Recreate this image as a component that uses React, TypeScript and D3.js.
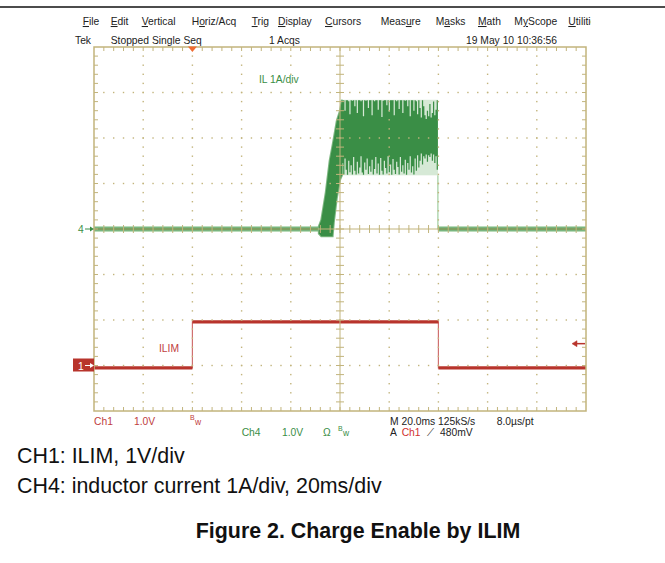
import React from 'react';
import * as d3 from 'd3';

// ---------- data ----------
const menuLabels = ['File', 'Edit', 'Vertical', 'Horiz/Acq', 'Trig', 'Display', 'Cursors', 'Measure', 'Masks', 'Math', 'MyScope', 'Utilities'];
const menuUnderline = [0, 0, 0, 1, 0, 0, 0, 4, 1, 0, 1, 0];

const msPerDiv = 20;
const timeDomain = [-100, 100];
const ch1Offset = -3; // divisions
const ch4Offset = 0;
const triggerTime = -60;
const triggerLevel = 0.48; // V

// CH1: ILIM (V)
const ilimTimes = [-100, -60, -60, 40, 40, 100];
const ilimVolts = [-0.05, -0.05, 0.96, 0.96, -0.05, -0.05];

// CH4: inductor current (A)
const ilIdleTimesA = [-100, -8.0];
const ilIdleTimesB = [39.8, 100];
const ilIdleLevel = 0;

const rampTimes = [-8.6, -7.6, -5.8, -4.2, -3.0, -2.5, -1.3, 0.0, 0.8];
const rampUpper = [0.06, 0.2, 0.8, 1.5, 1.85, 2.0, 2.38, 2.6, 2.84];
const rampLower = [-0.1, -0.16, -0.16, -0.16, -0.16, 0.15, 0.68, 1.08, 1.18];

const bandTimes = [0.8, 1.3, 1.8, 2.3, 2.8, 3.3, 3.8, 4.3, 4.8, 5.3, 5.8, 6.3, 6.8, 7.3, 7.8, 8.3, 8.8, 9.3, 9.8, 10.3, 10.8, 11.3, 11.8, 12.3, 12.8, 13.3, 13.8, 14.3, 14.8, 15.3, 15.8, 16.3, 16.8, 17.3, 17.8, 18.3, 18.8, 19.3, 19.8, 20.3, 20.8, 21.3, 21.8, 22.3, 22.8, 23.3, 23.8, 24.3, 24.8, 25.3, 25.8, 26.3, 26.8, 27.3, 27.8, 28.3, 28.8, 29.3, 29.8, 30.3, 30.8, 31.3, 31.8, 32.3, 32.8, 33.3, 33.8, 34.3, 34.8, 35.3, 35.8, 36.3, 36.8, 37.3, 37.8, 38.3, 38.8, 39.3, 39.8];
const bandUpper = [2.82, 2.83, 2.60, 2.83, 2.83, 2.81, 2.52, 2.83, 2.82, 2.83, 2.70, 2.83, 2.55, 2.83, 2.83, 2.81, 2.83, 2.48, 2.83, 2.82,
  2.83, 2.66, 2.83, 2.83, 2.50, 2.83, 2.81, 2.83, 2.83, 2.62, 2.83, 2.83, 2.46, 2.82, 2.83, 2.83, 2.72, 2.83, 2.58, 2.83,
  2.83, 2.83, 2.50, 2.83, 2.81, 2.83, 2.64, 2.83, 2.83, 2.55, 2.83, 2.82, 2.83, 2.70, 2.83, 2.48, 2.83, 2.83, 2.60, 2.83,
  2.81, 2.52, 2.83, 2.66, 2.45, 2.83, 2.70, 2.50, 2.42, 2.60, 2.48, 2.75, 2.45, 2.55, 2.80, 2.50, 2.62, 2.83, 2.82];
const bandLower = [1.45, 1.20, 1.55, 1.30, 1.19, 1.50, 1.25, 1.40, 1.20, 1.58, 1.28, 1.20, 1.48, 1.22, 1.35, 1.60, 1.24, 1.19, 1.46, 1.30,
  1.55, 1.21, 1.38, 1.26, 1.52, 1.20, 1.32, 1.58, 1.22, 1.44, 1.19, 1.56, 1.28, 1.20, 1.50, 1.34, 1.22, 1.60, 1.25, 1.42,
  1.19, 1.54, 1.30, 1.21, 1.48, 1.36, 1.20, 1.58, 1.26, 1.40, 1.22, 1.52, 1.19, 1.45, 1.30, 1.60, 1.24, 1.38, 1.20, 1.55,
  1.28, 1.62, 1.35, 1.50, 1.66, 1.42, 1.60, 1.55, 1.64, 1.48, 1.62, 1.58, 1.66, 1.50, 1.64, 1.45, 1.60, 1.30, 1.30];
const bandOuterUpper = 2.84;
const bandOuterLower = 1.18;

const captions = ['CH1: ILIM, 1V/div', 'CH4: inductor current 1A/div, 20ms/div'];
const figureTitle = 'Figure 2. Charge Enable by ILIM';

// ---------- layout ----------
const W = 665, H = 563;
const PL = 94, PR = 586, PT = 47, PB = 411;
const FONT = '"Liberation Sans", Arial, sans-serif';
const TAN = '#c2b47c';
const GREEN = '#3a8e46';
const LIGHTGREEN = '#d6e9d6';
const RED = '#b8342c';
const menuX = [82.7, 110.7, 141.7, 191.7, 251.7, 278, 325, 380.7, 435.7, 478, 514.3, 568.3];

export default function App() {
  const x = d3.scaleLinear().domain(timeDomain).range([PL, PR]);
  const y = d3.scaleLinear().domain([-4, 4]).range([PB, PT]);
  const y1 = (v: number) => y(v + ch1Offset);
  const y4 = (v: number) => y(v + ch4Offset);

  const xDivs = d3.range(timeDomain[0], timeDomain[1] + 0.001, msPerDiv);
  const yDivs = d3.range(-4, 4.001, 1);
  const xMinor = d3.range(timeDomain[0], timeDomain[1] + 0.001, msPerDiv / 5);
  const yMinor = d3.range(-4, 4.001, 0.2);

  // graticule
  const dots: JSX.Element[] = [];
  xDivs.forEach((t, i) => {
    if (i === 0 || i === xDivs.length - 1 || t === 0) return;
    yMinor.forEach((d, j) => {
      if (j === 0 || j === yMinor.length - 1) return;
      dots.push(<rect key={`vx${i}-${j}`} x={x(t) - 0.7} y={y(d) - 0.7} width={1.4} height={1.4} fill={TAN} />);
    });
  });
  yDivs.forEach((d, i) => {
    if (i === 0 || i === yDivs.length - 1 || d === 0) return;
    xMinor.forEach((t, j) => {
      if (j === 0 || j === xMinor.length - 1) return;
      dots.push(<rect key={`hy${i}-${j}`} x={x(t) - 0.7} y={y(d) - 0.7} width={1.4} height={1.4} fill={TAN} />);
    });
  });

  const ticks: JSX.Element[] = [];
  xMinor.forEach((t, j) => {
    if (j === 0 || j === xMinor.length - 1) return;
    const len = 4;
    ticks.push(<line key={`tt${j}`} x1={x(t)} x2={x(t)} y1={PT} y2={PT + len} />);
    ticks.push(<line key={`tb${j}`} x1={x(t)} x2={x(t)} y1={PB} y2={PB - len} />);
    ticks.push(<line key={`tc${j}`} x1={x(t)} x2={x(t)} y1={y(0) - 4} y2={y(0) + 4} />);
  });
  yMinor.forEach((d, j) => {
    if (j === 0 || j === yMinor.length - 1) return;
    const len = 4;
    ticks.push(<line key={`tl${j}`} y1={y(d)} y2={y(d)} x1={PL} x2={PL + len} />);
    ticks.push(<line key={`tr${j}`} y1={y(d)} y2={y(d)} x1={PR} x2={PR - len} />);
    ticks.push(<line key={`tm${j}`} y1={y(d)} y2={y(d)} x1={x(0) - 4} x2={x(0) + 4} />);
  });

  // traces
  const ilimPts = ilimTimes.map((t, i) => [x(t), y1(ilimVolts[i])] as [number, number]);
  const lineGen = d3.line();
  const ilimHoriz: [number, number][][] = [];
  for (let i = 0; i < ilimPts.length - 1; i++) {
    if (ilimTimes[i] !== ilimTimes[i + 1]) ilimHoriz.push([ilimPts[i], ilimPts[i + 1]]);
  }

  const rampArea = d3.area<number>()
    .x((i) => x(rampTimes[i]))
    .y0((i) => y4(rampLower[i]))
    .y1((i) => y4(rampUpper[i]))(rampTimes.map((_, i) => i));

  const bandDark = d3.area<number>()
    .x((i) => x(bandTimes[i]))
    .y0((i) => y4(bandLower[i]))
    .y1((i) => y4(bandUpper[i]))
    .curve(d3.curveStepAfter)(bandTimes.map((_, i) => i));

  const bx0 = x(bandTimes[0]);
  const bx1 = x(bandTimes[bandTimes.length - 1]);

  const idleA = lineGen(ilIdleTimesA.map((t) => [x(t), y4(ilIdleLevel)]));
  const idleB = lineGen(ilIdleTimesB.map((t) => [x(t), y4(ilIdleLevel)]));

  const trigX = x(triggerTime);
  const trigY = y1(triggerLevel);

  const scopeText = { fontFamily: FONT, fontSize: 10.3 };

  return (
    <svg width={W} height={H} style={{ position: 'absolute', left: 0, top: 0, background: '#fff' }}>
      <defs>
        <clipPath id="menuclip"><rect x={0} y={0} width={591} height={H} /></clipPath>
        <clipPath id="plotclip"><rect x={PL} y={PT} width={PR - PL} height={PB - PT} /></clipPath>
      </defs>
      <rect width={W} height={H} fill="#fff" />
      <line x1={0} x2={W} y1={7} y2={7} stroke="#111" strokeWidth={1.5} />

      {/* menu */}
      <g clipPath="url(#menuclip)" fill="#222" {...scopeText}>
        {menuLabels.map((m, i) => {
          const u = menuUnderline[i];
          return (
            <text key={m} x={menuX[i]} y={25}>
              {m.slice(0, u)}
              <tspan textDecoration="underline">{m[u]}</tspan>
              {m.slice(u + 1)}
            </text>
          );
        })}
      </g>
      <g fill="#222" {...scopeText}>
        <text x={75} y={44}>Tek</text>
        <text x={110.7} y={44}>Stopped  Single Seq</text>
        <text x={269} y={44}>1 Acqs</text>
        <text x={466} y={44}>19 May 10 10:36:56</text>
      </g>

      {/* traces */}
      <g clipPath="url(#plotclip)">
        {/* CH4 */}
        <path d={idleA || ''} stroke="#8cc48c" strokeWidth={6} fill="none" opacity={0.6} />
        <path d={idleB || ''} stroke="#8cc48c" strokeWidth={6} fill="none" opacity={0.6} />
        <path d={idleA || ''} stroke={GREEN} strokeWidth={3} fill="none" />
        <path d={idleB || ''} stroke={GREEN} strokeWidth={3} fill="none" />
        <rect x={bx0} y={y4(bandOuterUpper)} width={bx1 - bx0} height={y4(bandOuterLower) - y4(bandOuterUpper)} fill={LIGHTGREEN} />
        <path d={rampArea || ''} fill="#6fae72" stroke="#7fb882" strokeWidth={2} />
        <path d={rampArea || ''} fill={GREEN} />
        <path d={bandDark || ''} fill={GREEN} />
        <line x1={bx1} x2={bx1} y1={y4(bandOuterLower)} y2={y4(ilIdleLevel)} stroke="#8cc48c" strokeWidth={1} />
        {/* CH1 */}
        <path d={lineGen(ilimPts) || ''} stroke="#d07070" strokeWidth={1.2} fill="none" />
        {ilimHoriz.map((seg, i) => (
          <path key={i} d={lineGen(seg) || ''} stroke={RED} strokeWidth={3.2} fill="none" />
        ))}
      </g>

      {/* graticule */}
      <g>{dots}</g>
      <g stroke={TAN} strokeWidth={1}>{ticks}</g>
      <line x1={x(0)} x2={x(0)} y1={PT} y2={PB} stroke={TAN} strokeWidth={1} />
      <line x1={PL} x2={PR} y1={y(0)} y2={y(0)} stroke={TAN} strokeWidth={1} />
      <rect x={PL} y={PT} width={PR - PL} height={PB - PT} fill="none" stroke={TAN} strokeWidth={1.5} />

      {/* trigger markers */}
      <path d={`M${trigX - 4.5},${PT - 0.5} L${trigX + 4.5},${PT - 0.5} L${trigX},${PT + 5}Z`} fill="#f06a30" />
      <g stroke={RED} strokeWidth={1.5} fill={RED}>
        <line x1={PR - 1} x2={PR - 12} y1={trigY} y2={trigY} />
        <path d={`M${PR - 14},${trigY} L${PR - 9},${trigY - 3} L${PR - 9},${trigY + 3}Z`} strokeWidth={0.5} />
      </g>

      {/* channel markers */}
      <text x={78} y={233} fill={GREEN} {...scopeText}>4</text>
      <line x1={85} x2={92} y1={y4(0)} y2={y4(0)} stroke={GREEN} strokeWidth={1} />
      <path d={`M${94},${y4(0)} L${90},${y4(0) - 2.5} L${90},${y4(0) + 2.5}Z`} fill={GREEN} />
      <rect x={73} y={y1(0) - 7} width={21} height={13} fill={RED} />
      <text x={78} y={y1(0) + 4} fill="#fff" {...scopeText}>1</text>
      <line x1={85} x2={92} y1={y1(0)} y2={y1(0)} stroke="#fff" strokeWidth={1} />
      <path d={`M${94},${y1(0)} L${90},${y1(0) - 2.5} L${90},${y1(0) + 2.5}Z`} fill="#fff" />

      <text x={259} y={83} fill={GREEN} {...scopeText}>IL  1A/div</text>
      <text x={159} y={352} fill="#c04040" {...scopeText}>ILIM</text>

      {/* bottom readouts */}
      <g {...scopeText}>
        <text x={94} y={424.5} fill="#c04040">Ch1</text>
        <text x={134} y={424.5} fill="#c04040">1.0V</text>
        <text x={190} y={420} fill="#c04040" fontSize={7}>B</text>
        <text x={195} y={425} fill="#c04040" fontSize={8.5}>w</text>
        <text x={241.7} y={435.5} fill={GREEN}>Ch4</text>
        <text x={282} y={435.5} fill={GREEN}>1.0V</text>
        <text x={323} y={435.5} fill={GREEN}>Ω</text>
        <text x={338} y={431} fill={GREEN} fontSize={7}>B</text>
        <text x={343} y={436} fill={GREEN} fontSize={8.5}>w</text>
        <text x={390} y={424.5} fill="#222">M 20.0ms  125kS/s</text>
        <text x={496.7} y={424.5} fill="#222">8.0µs/pt</text>
        <text x={390} y={435.5} fill="#222">A</text>
        <text x={401.7} y={435.5} fill="#d03030">Ch1</text>
        <text x={426.7} y={435.5} fill="#222">⟋</text>
        <text x={440} y={435.5} fill="#222">480mV</text>
      </g>

      {/* captions */}
      <g fontFamily={FONT} fill="#111">
        <text x={17} y={463} fontSize={21.4}>{captions[0]}</text>
        <text x={17} y={493} fontSize={21.4}>{captions[1]}</text>
        <text x={358} y={538} fontSize={21.4} fontWeight="bold" textAnchor="middle">{figureTitle}</text>
      </g>
    </svg>
  );
}
